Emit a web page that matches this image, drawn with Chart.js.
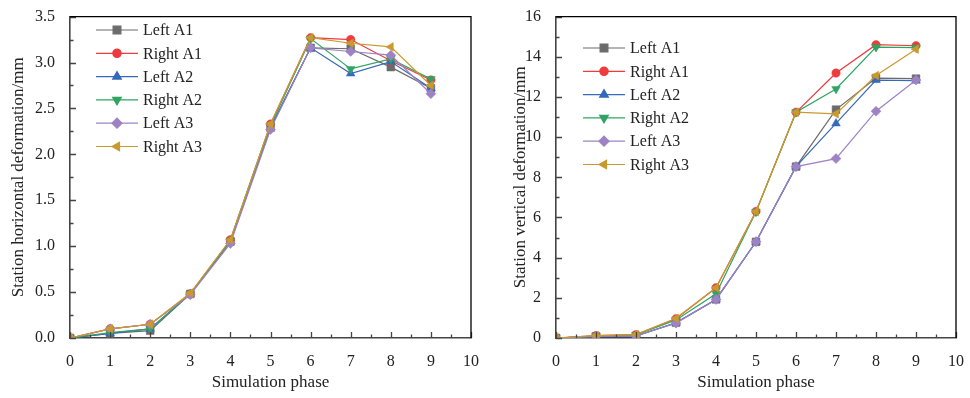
<!DOCTYPE html>
<html>
<head>
<meta charset="utf-8">
<script src="https://cdn.jsdelivr.net/npm/chart.js@4.4.1/dist/chart.umd.min.js"></script>
<style>
  html, body { margin: 0; padding: 0; background: #fff; }
  .wrap { position: absolute; top: 0; width: 485px; height: 398px; }
  #leftWrap { left: 0; }
  #rightWrap { left: 485px; }
</style>
</head>
<body>
<div class="wrap" id="leftWrap"><canvas id="horizChart" width="485" height="398"></canvas></div>
<div class="wrap" id="rightWrap"><canvas id="vertChart" width="485" height="398"></canvas></div>
<script>
const phases = [0, 1, 2, 3, 4, 5, 6, 7, 8, 9];
const seriesNames = ['Left A1', 'Right A1', 'Left A2', 'Right A2', 'Left A3', 'Right A3'];

// horizontal deformation (mm)
const leftA1H  = [0, 0.05, 0.08, 0.48, 1.05, 2.29, 3.16, 3.15, 2.95, 2.72];
const rightA1H = [0, 0.10, 0.15, 0.48, 1.07, 2.33, 3.27, 3.25, 3.02, 2.81];
const leftA2H  = [0, 0.05, 0.10, 0.48, 1.05, 2.29, 3.16, 2.88, 3.01, 2.72];
const rightA2H = [0, 0.06, 0.10, 0.48, 1.06, 2.31, 3.26, 2.93, 3.04, 2.82];
const leftA3H  = [0, 0.10, 0.15, 0.47, 1.03, 2.27, 3.16, 3.12, 3.08, 2.66];
const rightA3H = [0, 0.10, 0.15, 0.49, 1.07, 2.33, 3.27, 3.21, 3.17, 2.75];

// vertical deformation (mm)
const leftA1V  = [0, 0.08, 0.10, 0.76, 1.92, 4.79, 8.53, 11.37, 12.94, 12.91];
const rightA1V = [0, 0.12, 0.17, 0.96, 2.50, 6.30, 11.24, 13.19, 14.60, 14.55];
const leftA2V  = [0, 0.08, 0.10, 0.76, 1.92, 4.79, 8.53, 10.68, 12.84, 12.81];
const rightA2V = [0, 0.10, 0.15, 0.90, 2.20, 6.28, 11.24, 12.40, 14.48, 14.46];
const leftA3V  = [0, 0.08, 0.10, 0.74, 1.92, 4.79, 8.53, 8.93, 11.29, 12.84];
const rightA3V = [0, 0.12, 0.17, 0.98, 2.50, 6.30, 11.24, 11.16, 13.07, 14.38];

const colors = ['#6b6b6b', '#ee3b3e', '#3569bb', '#2fa463', '#9e83c4', '#c99a2e'];
const markers = ['rect', 'circle', 'triangle', 'triangle', 'rectRot', 'triangle'];
const rotations = [0, 0, 0, 180, 0, 270];
const markerSize = [5.5, 4.2, 5, 5, 5, 5];

const serif = '"Liberation Serif", "Times New Roman", serif';

function makeDatasets(arrays) {
  return arrays.map((vals, i) => ({
    label: seriesNames[i],
    data: phases.map((p, j) => ({ x: p, y: vals[j] })),
    borderColor: colors[i],
    backgroundColor: colors[i],
    borderWidth: 1.2,
    pointStyle: markers[i],
    rotation: rotations[i],
    pointRadius: markerSize[i],
    pointBorderWidth: 0.5,
    pointBorderColor: colors[i],
    tension: 0,
    order: arrays.length - i
  }));
}

// inward major/minor ticks + frame
const frameTicks = {
  id: 'frameTicks',
  afterDraw(chart, args, opts) {
    const ctx = chart.ctx;
    const a = chart.chartArea;
    const xs = chart.scales.x, ys = chart.scales.y;
    ctx.save();
    ctx.strokeStyle = '#444';
    ctx.lineWidth = 1.3;
    ctx.beginPath();
    for (let v = xs.min; v <= xs.max + 1e-9; v += 0.5) {
      const px = Math.round(xs.getPixelForValue(v)) + 0.5;
      const len = Math.abs(v - Math.round(v)) < 1e-9 ? 6 : 3.5;
      ctx.moveTo(px, a.bottom);
      ctx.lineTo(px, a.bottom - len);
    }
    const step = opts.yStep;
    for (let k = 0; k <= Math.round((ys.max - ys.min) / (step / 2)); k++) {
      const v = ys.min + k * step / 2;
      const py = Math.round(ys.getPixelForValue(v)) + 0.5;
      const len = k % 2 === 0 ? 6 : 3.5;
      ctx.moveTo(a.left, py);
      ctx.lineTo(a.left + len, py);
    }
    ctx.stroke();
    ctx.strokeStyle = '#000';
    ctx.lineWidth = 1.3;
    ctx.beginPath();
    ctx.moveTo(a.left, a.top);
    ctx.lineTo(a.right, a.top);
    ctx.lineTo(a.right, a.bottom);
    ctx.stroke();
    ctx.restore();
  }
};

// Origin-style legend: line - marker - line, then label
const lineLegend = {
  id: 'lineLegend',
  afterDatasetsDraw(chart, args, opts) {
    const ctx = chart.ctx;
    ctx.save();
    ctx.font = '16px ' + serif;
    ctx.textBaseline = 'middle';
    chart.data.datasets.forEach((ds, i) => {
      const y = opts.y + i * 23.3;
      const x = opts.x;
      ctx.strokeStyle = ds.borderColor;
      ctx.lineWidth = 1.2;
      ctx.beginPath();
      ctx.moveTo(x, y);
      ctx.lineTo(x + 42, y);
      ctx.stroke();
      ctx.fillStyle = ds.backgroundColor;
      Chart.helpers.drawPoint(ctx, {
        pointStyle: ds.pointStyle,
        rotation: ds.rotation,
        radius: ds.pointRadius,
        borderWidth: 0.5
      }, x + 21, y);
      ctx.fillStyle = '#222';
      ctx.fillText(ds.label, x + 47, y + 1);
    });
    ctx.restore();
  }
};

function makeChart(id, arrays, yMax, yStep, yTitle, decimals, axisWidth, titlePad, legendPos) {
  return new Chart(document.getElementById(id), {
    type: 'line',
    data: { datasets: makeDatasets(arrays) },
    options: {
      responsive: false,
      animation: false,
      layout: { padding: { top: 15, right: 14, left: 0, bottom: 0 } },
      plugins: {
        legend: { display: false },
        tooltip: { enabled: false },
        frameTicks: { yStep: yStep },
        lineLegend: legendPos
      },
      scales: {
        x: {
          type: 'linear',
          min: 0, max: 10,
          grid: { display: false },
          border: { display: true, color: '#444', width: 1.6 },
          ticks: { stepSize: 1, padding: 6, color: '#222', font: { family: serif, size: 16 } },
          title: { display: true, text: 'Simulation phase', color: '#222', font: { family: serif, size: 17 }, padding: { top: 0, bottom: 5 } },
          afterFit(s) { s.height = 60; }
        },
        y: {
          type: 'linear',
          min: 0, max: yMax,
          grid: { display: false },
          border: { display: true, color: '#444', width: 1.6 },
          ticks: {
            stepSize: yStep, padding: 7, color: '#222', font: { family: serif, size: 16 },
            callback: v => v.toFixed(decimals)
          },
          title: { display: true, text: yTitle, color: '#222', font: { family: serif, size: 17 }, padding: titlePad },
          afterFit(s) { s.width = axisWidth; }
        }
      }
    },
    plugins: [frameTicks, lineLegend]
  });
}

makeChart('horizChart', [leftA1H, rightA1H, leftA2H, rightA2H, leftA3H, rightA3H],
  3.5, 0.5, 'Station horizontal deformation/mm', 1, 70, { top: 8, bottom: 0 }, { x: 96, y: 30 });
makeChart('vertChart', [leftA1V, rightA1V, leftA2V, rightA2V, leftA3V, rightA3V],
  16, 2, 'Station vertical deformation/mm', 0, 71, { top: 25, bottom: 0 }, { x: 98, y: 48 });
</script>
</body>
</html>
